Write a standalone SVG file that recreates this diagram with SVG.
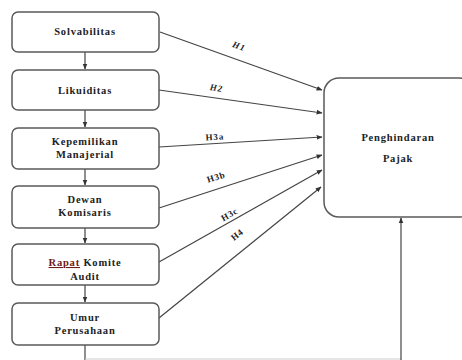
<svg xmlns="http://www.w3.org/2000/svg" width="462" height="360" viewBox="0 0 462 360">
<style>
.box{fill:#fff;stroke:#5a5a5a;stroke-width:1.5}
.t{font-family:"Liberation Serif","Times New Roman",serif;font-weight:bold;font-size:10.5px;fill:#222;text-anchor:middle;letter-spacing:0.8px}
.h{font-family:"Liberation Serif","Times New Roman",serif;font-weight:bold;font-size:9px;fill:#222;text-anchor:middle;letter-spacing:0.8px}
.c{stroke:#444;stroke-width:1.2;fill:none}
</style>
<defs>
<marker id="ah" viewBox="0 0 10 10" refX="9" refY="5" markerWidth="6" markerHeight="6" orient="auto" markerUnits="userSpaceOnUse">
<path d="M0,1 L10,5 L0,9 z" fill="#333"/>
</marker>
</defs>
<rect width="462" height="360" fill="#fff"/>
<g id="connectors">
<line class="c" x1="85" y1="52" x2="85" y2="69" marker-end="url(#ah)"/>
<line class="c" x1="85" y1="110" x2="85" y2="127" marker-end="url(#ah)"/>
<line class="c" x1="85" y1="169" x2="85" y2="185" marker-end="url(#ah)"/>
<line class="c" x1="85" y1="228" x2="85" y2="243" marker-end="url(#ah)"/>
<line class="c" x1="85" y1="285" x2="85" y2="302" marker-end="url(#ah)"/>
<line class="c" x1="85" y1="345" x2="85" y2="360"/>
<line x1="85" y1="359" x2="401" y2="359" stroke="#ccc" stroke-width="1"/>
<line class="c" x1="401" y1="360" x2="401" y2="218" marker-end="url(#ah)"/>
<line class="c" x1="160" y1="32" x2="322" y2="90" marker-end="url(#ah)"/>
<line class="c" x1="159" y1="90" x2="322" y2="113" marker-end="url(#ah)"/>
<line class="c" x1="159" y1="147" x2="322" y2="137" marker-end="url(#ah)"/>
<line class="c" x1="159" y1="208" x2="322" y2="155" marker-end="url(#ah)"/>
<line class="c" x1="159" y1="262" x2="322" y2="170" marker-end="url(#ah)"/>
<line class="c" x1="159" y1="318" x2="321" y2="187" marker-end="url(#ah)"/>
<text class="h" font-style="italic" transform="translate(238,49) rotate(19.7)">H1</text>
<text class="h" font-style="italic" transform="translate(216,91) rotate(8)">H2</text>
<text class="h" transform="translate(215,140) rotate(-3.5)">H3a</text>
<text class="h" transform="translate(217,180) rotate(-17.7)">H3b</text>
<text class="h" transform="translate(231,217) rotate(-29.4)">H3c</text>
<text class="h" transform="translate(239,237) rotate(-39)">H4</text>
</g>
<g id="n1"><rect class="box" x="12" y="12" width="147" height="40" rx="6"/><text class="t" x="85" y="35">Solvabilitas</text></g>
<g id="n2"><rect class="box" x="12" y="70" width="147" height="40" rx="6"/><text class="t" x="85" y="94">Likuiditas</text></g>
<g id="n3"><rect class="box" x="12" y="128" width="147" height="41" rx="6"/><text class="t" x="85" y="145">Kepemilikan</text><text class="t" x="85" y="158">Manajerial</text></g>
<g id="n4"><rect class="box" x="12" y="186" width="147" height="42" rx="6"/><text class="t" x="85" y="203">Dewan</text><text class="t" x="85" y="216">Komisaris</text></g>
<g id="n5"><rect class="box" x="12" y="244" width="147" height="41" rx="6"/><text class="t" x="85" y="266"><tspan fill="#6b1a1a" text-decoration="underline">Rapat</tspan> Komite</text><text class="t" x="85" y="280">Audit</text></g>
<g id="n6"><rect class="box" x="12" y="303" width="147" height="42" rx="6"/><text class="t" x="85" y="321">Umur</text><text class="t" x="85" y="334">Perusahaan</text></g>
<g id="n7"><rect class="box" x="324" y="78" width="150" height="139" rx="15"/><text class="t" x="398" y="141">Penghindaran</text><text class="t" x="398" y="162">Pajak</text></g>
</svg>
